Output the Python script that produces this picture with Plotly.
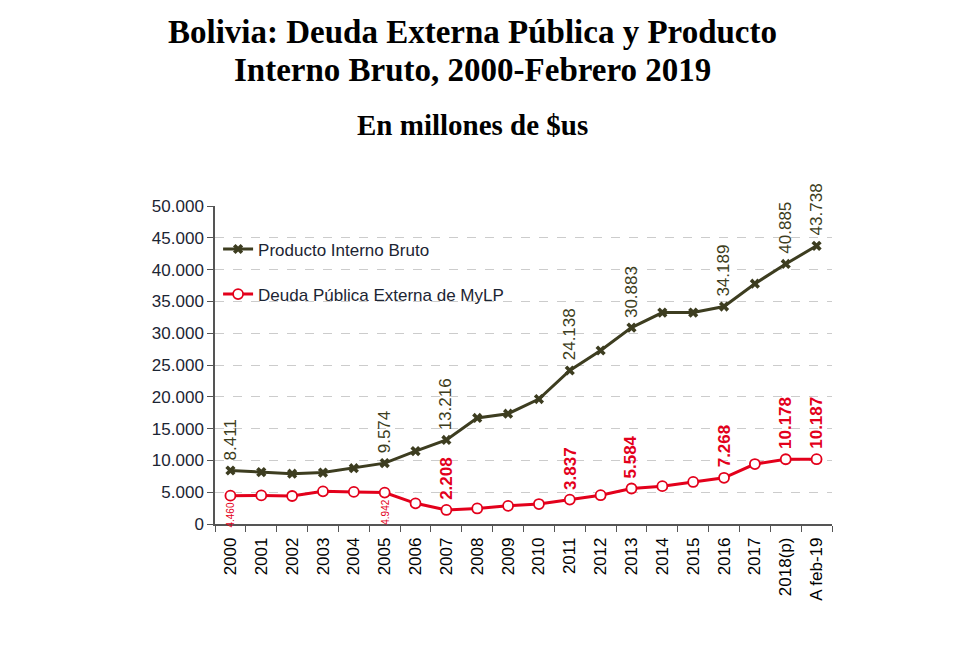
import plotly.graph_objects as go

categories = ["2000", "2001", "2002", "2003", "2004", "2005", "2006", "2007", "2008", "2009",
              "2010", "2011", "2012", "2013", "2014", "2015", "2016", "2017", "2018(p)", "A feb-19"]
pib = [8411, 8154, 7905, 8082, 8773, 9574, 11452, 13216, 16674, 17340,
       19650, 24138, 27282, 30883, 33237, 33241, 34189, 37782, 40885, 43738]
deuda = [4460, 4497, 4400, 5142, 5045, 4942, 3248, 2208, 2443, 2854,
         3140, 3837, 4525, 5584, 5947, 6608, 7268, 9428, 10178, 10187]
pib_label_idx = [0, 5, 7, 11, 13, 16, 18, 19]
deuda_label_up_idx = [7, 11, 13, 16, 18, 19]
deuda_label_down_idx = [0, 5]
y_ticks = [0, 5000, 10000, 15000, 20000, 25000, 30000, 35000, 40000, 45000, 50000]

OLIVE = "#3d3d20"
RED = "#e3001b"
TXT = "#1c2533"
SANS = "Liberation Sans, Arial"


def fmt(v):
    return f"{v:,}".replace(",", ".")


fig = go.Figure()
fig.add_trace(go.Scatter(
    x=categories, y=pib, mode="lines+markers", name="Producto Interno Bruto",
    legendgroup="a",
    line=dict(color=OLIVE, width=3),
    marker=dict(symbol="x", size=9, color=OLIVE),
))
fig.add_trace(go.Scatter(
    x=categories, y=deuda, mode="lines+markers", name="Deuda Pública Externa de MyLP",
    legendgroup="b",
    line=dict(color=RED, width=3),
    marker=dict(symbol="circle", size=10, color="white", line=dict(color=RED, width=1.8)),
))

annotations = []
for i in pib_label_idx:
    annotations.append(dict(x=i, y=pib[i], xref="x", yref="y", text=fmt(pib[i]),
                            showarrow=False, textangle=-90, yanchor="bottom", xanchor="center",
                            yshift=8, font=dict(family=SANS, size=17, color=OLIVE)))
for i in deuda_label_up_idx:
    annotations.append(dict(x=i, y=deuda[i], xref="x", yref="y", text="<b>" + fmt(deuda[i]) + "</b>",
                            showarrow=False, textangle=-90, yanchor="bottom", xanchor="center",
                            yshift=8, font=dict(family=SANS, size=17, color=RED)))
for i in deuda_label_down_idx:
    annotations.append(dict(x=i, y=deuda[i], xref="x", yref="y", text=fmt(deuda[i]),
                            showarrow=False, textangle=-90, yanchor="top", xanchor="center",
                            yshift=-5, font=dict(family=SANS, size=10, color=RED)))

title_font = "Liberation Serif, Times New Roman, serif"
annotations += [
    dict(text="<b>Bolivia: Deuda Externa Pública y Producto</b>", xref="paper", yref="paper",
         x=0.418, y=(524 - 32) / 318, showarrow=False, xanchor="center", yanchor="middle",
         font=dict(family=title_font, size=33, color="black")),
    dict(text="<b>Interno Bruto, 2000-Febrero 2019</b>", xref="paper", yref="paper",
         x=0.418, y=(524 - 70) / 318, showarrow=False, xanchor="center", yanchor="middle",
         font=dict(family=title_font, size=33, color="black")),
    dict(text="<b>En millones de $us</b>", xref="paper", yref="paper",
         x=0.418, y=(524 - 125) / 318, showarrow=False, xanchor="center", yanchor="middle",
         font=dict(family=title_font, size=29, color="black")),
]

fig.update_layout(
    width=980, height=653,
    margin=dict(l=215, r=148, t=206, b=129),
    paper_bgcolor="white", plot_bgcolor="white",
    separators=",.",
    showlegend=True,
    legend=dict(x=0.005, y=0.92, xanchor="left", yanchor="top",
                font=dict(family=SANS, size=17, color=TXT),
                bgcolor="rgba(0,0,0,0)", tracegroupgap=20, traceorder="grouped"),
    annotations=annotations,
    xaxis=dict(type="category", categoryorder="array", categoryarray=categories,
               range=[-0.5, len(categories) - 0.5],
               showline=True, linecolor="#555555", linewidth=1.5,
               ticks="outside", tickson="boundaries", ticklen=6, tickcolor="#555555",
               tickangle=-90, showgrid=False, ticklabelstandoff=5,
               tickfont=dict(family=SANS, size=17, color="black")),
    yaxis=dict(range=[0, 50000], tickvals=y_ticks, tickformat=",d",
               showline=True, linecolor="#555555", linewidth=1.5,
               ticks="outside", ticklen=6, tickcolor="#555555",
               showgrid=True, gridcolor="#cccccc", griddash="dash", gridwidth=1,
               zeroline=False,
               tickfont=dict(family=SANS, size=17, color=TXT)),
)

fig.write_html("out.html")
